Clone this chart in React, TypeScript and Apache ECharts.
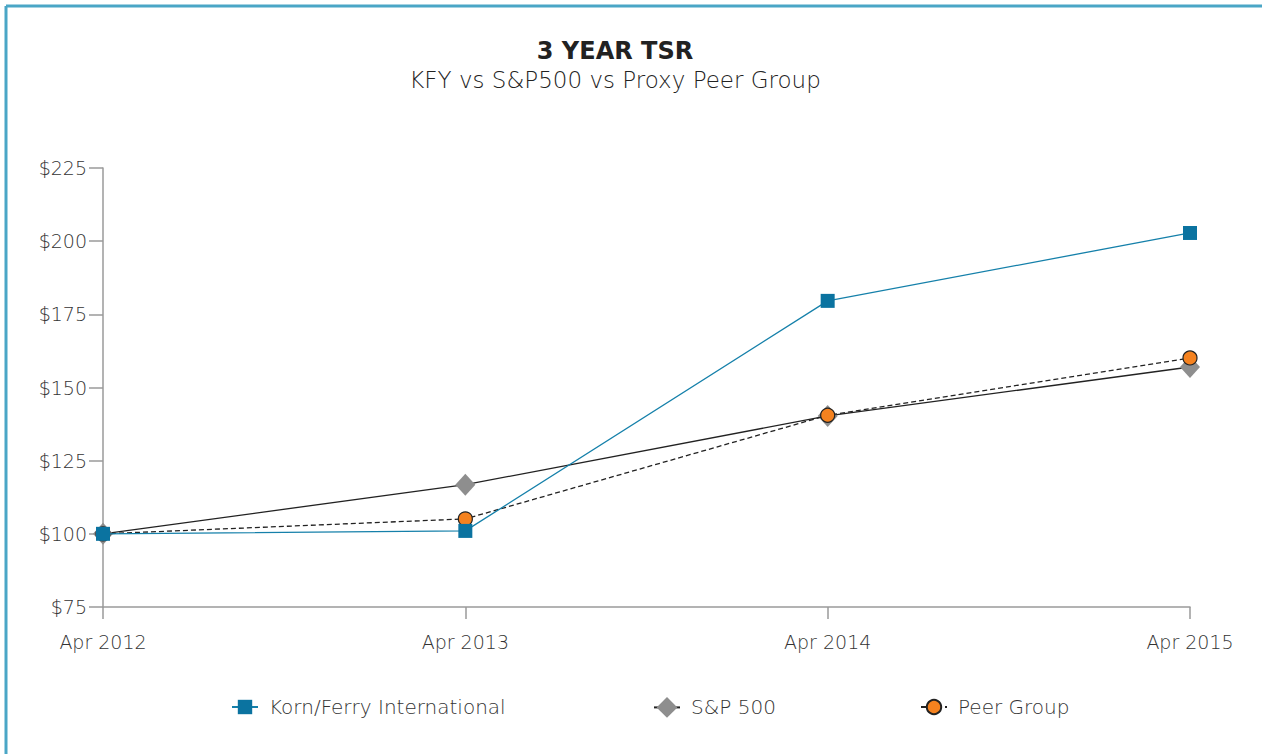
import React, { useEffect, useRef } from "react";
import * as echarts from "echarts";

const categories = ["Apr 2012", "Apr 2013", "Apr 2014", "Apr 2015"];
const seriesNames = ["Korn/Ferry International", "S&P 500", "Peer Group"];
const kfyValues = [100, 101, 179.6, 202.8];
const spValues = [100, 116.8, 140.3, 157];
const peerValues = [100, 105.1, 140.5, 160.1];
const yTicks = { min: 75, max: 225, interval: 25 };

const FONT = "'DejaVu Sans', sans-serif";

export default function App() {
  const ref = useRef<HTMLDivElement>(null);
  useEffect(() => {
    if (!ref.current) return;
    const chart = echarts.init(ref.current, null, { renderer: "svg" });
    const legendText = { fontSize: 20, color: "#333333", fontFamily: FONT, fontWeight: 200, padding: [0, 0, 0, 6] };
    chart.setOption({
      animation: false,
      backgroundColor: "#ffffff",
      textStyle: { fontFamily: FONT },
      graphic: [
        { type: "line", shape: { x1: 6, y1: 6, x2: 1262, y2: 6 }, style: { stroke: "#4aa6c6", lineWidth: 3 } },
        { type: "line", shape: { x1: 6, y1: 6, x2: 6, y2: 754 }, style: { stroke: "#4aa6c6", lineWidth: 3 } },
        {
          type: "text", x: 615, y: 51,
          style: { text: "3 YEAR TSR", textAlign: "center", textVerticalAlign: "middle", fontSize: 24, fontWeight: "bold", fill: "#222", fontFamily: FONT },
        },
        {
          type: "text", x: 615, y: 80,
          style: { text: "KFY vs S&P500 vs Proxy Peer Group", textAlign: "center", textVerticalAlign: "middle", fontSize: 23, fontWeight: 200, fill: "#222", fontFamily: FONT },
        },
      ],
      legend: [
        { left: 226, top: 692, itemWidth: 26, itemHeight: 18, data: [seriesNames[0]], textStyle: legendText },
        { left: 648, top: 692, itemWidth: 26, itemHeight: 26, data: [seriesNames[1]], textStyle: legendText },
        { left: 915, top: 692, itemWidth: 26, itemHeight: 18, data: [seriesNames[2]], textStyle: legendText },
      ],
      grid: { left: 103, right: 72, top: 168, bottom: 147, containLabel: false },
      xAxis: {
        type: "category",
        data: categories,
        boundaryGap: false,
        axisLine: { lineStyle: { color: "#9a9a9a", width: 1.5 } },
        axisTick: { show: true, length: 12, lineStyle: { color: "#9a9a9a", width: 1.5 } },
        axisLabel: { fontSize: 19, color: "#333333", margin: 25, fontFamily: FONT, fontWeight: 200 },
      },
      yAxis: {
        type: "value",
        min: yTicks.min,
        max: yTicks.max,
        interval: yTicks.interval,
        axisLine: { show: true, lineStyle: { color: "#9a9a9a", width: 1.5 } },
        axisTick: { show: true, length: 14, lineStyle: { color: "#9a9a9a", width: 1.5 } },
        splitLine: { show: false },
        axisLabel: { fontSize: 19, color: "#333333", margin: 16, fontFamily: FONT, fontWeight: 200, formatter: "${value}" },
      },
      series: [
        {
          name: seriesNames[0],
          type: "line",
          data: kfyValues,
          symbol: "rect",
          symbolSize: 14,
          lineStyle: { color: "#1580aa", width: 1.3 },
          itemStyle: { color: "#0b73a0" },
          z: 3,
        },
        {
          name: seriesNames[1],
          type: "line",
          data: spValues,
          symbol: "diamond",
          symbolSize: [20, 22],
          lineStyle: { color: "#222222", width: 1.3 },
          itemStyle: { color: "#8e8e8e" },
          z: 1,
        },
        {
          name: seriesNames[2],
          type: "line",
          data: peerValues,
          symbol: "circle",
          symbolSize: 14,
          lineStyle: { color: "#222222", width: 1.3, type: [5, 3] },
          itemStyle: { color: "#f5821f", borderColor: "#222", borderWidth: 1.2 },
          z: 2,
        },
      ],
    });
    return () => chart.dispose();
  }, []);
  return <div ref={ref} style={{ position: "fixed", left: 0, top: 0, width: 1262, height: 754 }} />;
}
